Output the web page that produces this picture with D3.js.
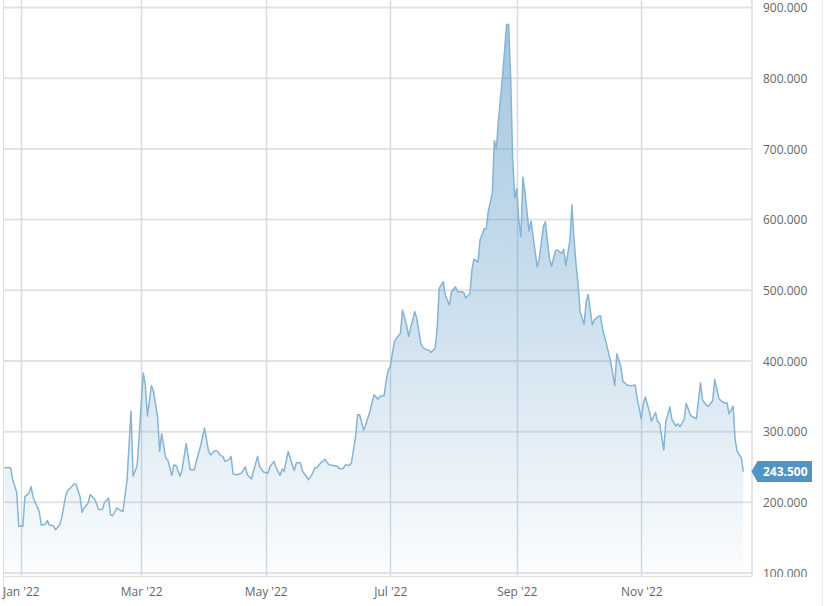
<!DOCTYPE html>
<html><head><meta charset="utf-8">
<script src="https://cdn.jsdelivr.net/npm/d3@7"></script>
<style>body{margin:0;background:#fff}svg{display:block;font-family:"Open Sans",sans-serif}</style>
</head><body><svg id="c" width="826" height="606"></svg>
<script>
const dates = ["2021-12-24","2021-12-27","2021-12-28","2021-12-30","2021-12-31","2022-01-02","2022-01-03","2022-01-05","2022-01-06","2022-01-07",
"2022-01-08","2022-01-10","2022-01-11","2022-01-13","2022-01-14","2022-01-15","2022-01-17","2022-01-18","2022-01-20","2022-01-21",
"2022-01-23","2022-01-24","2022-01-25","2022-01-27","2022-01-28","2022-01-30","2022-01-31","2022-02-01","2022-02-03","2022-02-04",
"2022-02-06","2022-02-07","2022-02-08","2022-02-10","2022-02-11","2022-02-13","2022-02-14","2022-02-15","2022-02-17","2022-02-18",
"2022-02-20","2022-02-21","2022-02-22","2022-02-24","2022-02-25","2022-02-27","2022-03-02","2022-03-03","2022-03-04","2022-03-06",
"2022-03-07","2022-03-09","2022-03-10","2022-03-11","2022-03-13","2022-03-14","2022-03-16","2022-03-17","2022-03-18","2022-03-20",
"2022-03-21","2022-03-23","2022-03-24","2022-03-25","2022-03-27","2022-03-28","2022-03-30","2022-04-01","2022-04-03","2022-04-04",
"2022-04-06","2022-04-07","2022-04-09","2022-04-10","2022-04-11","2022-04-13","2022-04-14","2022-04-15","2022-04-17","2022-04-19",
"2022-04-21","2022-04-22","2022-04-24","2022-04-27","2022-04-28","2022-04-30","2022-05-02","2022-05-03","2022-05-05","2022-05-06",
"2022-05-08","2022-05-09","2022-05-10","2022-05-12","2022-05-14","2022-05-15","2022-05-16","2022-05-18","2022-05-19","2022-05-22",
"2022-05-24","2022-05-25","2022-05-26","2022-05-28","2022-05-29","2022-05-30","2022-06-01","2022-06-03","2022-06-05","2022-06-06",
"2022-06-08","2022-06-09","2022-06-11","2022-06-12","2022-06-14","2022-06-15","2022-06-16","2022-06-18","2022-06-19","2022-06-21",
"2022-06-23","2022-06-25","2022-06-26","2022-06-28","2022-06-29","2022-06-30","2022-07-01","2022-07-03","2022-07-04","2022-07-06",
"2022-07-07","2022-07-09","2022-07-10","2022-07-12","2022-07-13","2022-07-14","2022-07-16","2022-07-17","2022-07-18","2022-07-20",
"2022-07-21","2022-07-23","2022-07-24","2022-07-25","2022-07-27","2022-07-28","2022-07-30","2022-07-31","2022-08-02","2022-08-03",
"2022-08-05","2022-08-06","2022-08-07","2022-08-09","2022-08-10","2022-08-11","2022-08-13","2022-08-14","2022-08-16","2022-08-17",
"2022-08-18","2022-08-20","2022-08-21","2022-08-22","2022-08-23","2022-08-25","2022-08-27","2022-08-28","2022-08-29","2022-08-30",
"2022-08-31","2022-09-01","2022-09-02","2022-09-03","2022-09-04","2022-09-05","2022-09-07","2022-09-08","2022-09-09","2022-09-11",
"2022-09-12","2022-09-14","2022-09-15","2022-09-17","2022-09-18","2022-09-20","2022-09-21","2022-09-23","2022-09-24","2022-09-25",
"2022-09-27","2022-09-28","2022-09-29","2022-09-30","2022-10-01","2022-10-02","2022-10-04","2022-10-05","2022-10-06","2022-10-08",
"2022-10-09","2022-10-11","2022-10-12","2022-10-13","2022-10-15","2022-10-17","2022-10-19","2022-10-20","2022-10-22","2022-10-23",
"2022-10-25","2022-10-27","2022-10-29","2022-10-30","2022-11-01","2022-11-02","2022-11-03","2022-11-05","2022-11-06","2022-11-08",
"2022-11-09","2022-11-10","2022-11-12","2022-11-13","2022-11-15","2022-11-16","2022-11-18","2022-11-19","2022-11-20","2022-11-22",
"2022-11-23","2022-11-25","2022-11-26","2022-11-28","2022-11-30","2022-12-01","2022-12-03","2022-12-04","2022-12-06","2022-12-07",
"2022-12-09","2022-12-10","2022-12-12","2022-12-13","2022-12-14","2022-12-16","2022-12-17","2022-12-18","2022-12-20","2022-12-21"];
const values = [249,249,232,214,166,166,208,213,222,208,
200,187,168,169,174,168,167,161,168,178,
209,217,219,226,226,208,186,192,199,211,
205,199,190,190,200,206,182,181,192,190,
187,208,230,329,237,252,383,366,322,365,
357,321,272,297,262,260,238,253,252,237,
246,283,265,246,246,258,279,305,272,267,
273,273,266,265,258,260,265,240,239,241,
250,239,233,265,250,243,241,250,258,250,
238,247,244,272,253,245,256,256,244,232,
241,249,249,256,258,261,253,252,251,248,
248,253,252,256,293,324,324,302,310,328,
352,346,350,351,372,387,392,427,432,439,
472,451,435,458,470,460,425,419,417,415,
412,418,446,503,512,493,479,498,505,498,
498,497,489,495,528,544,540,571,587,587,
611,637,712,700,740,802,876,876,802,684,
630,644,599,576,660,639,584,598,576,533,
544,590,597,545,534,556,557,552,558,535,
570,621,574,538,510,470,452,484,494,451,
458,463,464,446,423,399,365,410,392,371,
366,365,366,347,318,340,349,328,315,327,
314,312,274,314,335,317,308,311,307,317,
340,324,321,318,369,345,337,336,344,374,
347,344,340,341,325,336,288,272,263,243.5];
const yTicks = [100,200,300,400,500,600,700,800,900];
const xTicks = ["2022-01-01","2022-03-01","2022-05-01","2022-07-01","2022-09-01","2022-11-01"];
const lastLabel = "243.500";

const parse = d3.timeParse("%Y-%m-%d");
const data = dates.map((d,i)=>({date:parse(d), value:values[i]}));
const svg = d3.select("#c");
const L = 4.5, R = 751.5, T = 7.5, B = 573;
const x = d3.scaleTime().domain([new Date(2021,11,24), new Date(2022,11,25)]).range([L, R]);
const y = d3.scaleLinear().domain([100, 900]).range([B, T]);

const defs = svg.append("defs");
const g = defs.append("linearGradient").attr("id","fill").attr("gradientUnits","userSpaceOnUse")
  .attr("x1",0).attr("x2",0).attr("y1",y(880)).attr("y2",B);
g.append("stop").attr("offset","0%").attr("stop-color","rgb(70,140,190)").attr("stop-opacity",0.5);
g.append("stop").attr("offset","55%").attr("stop-color","rgb(70,140,190)").attr("stop-opacity",0.26);
g.append("stop").attr("offset","100%").attr("stop-color","rgb(70,140,190)").attr("stop-opacity",0.02);
defs.append("clipPath").attr("id","yclip").append("rect").attr("x",752).attr("y",0).attr("width",74).attr("height",577);

// frame lines
svg.append("line").attr("x1",3.5).attr("x2",3.5).attr("y1",0).attr("y2",601).attr("stroke","#dcdcdc");
svg.append("line").attr("x1",822.5).attr("x2",822.5).attr("y1",0).attr("y2",606).attr("stroke","#eeeeee");

// horizontal grid
svg.append("g").selectAll("line").data(yTicks).join("line")
  .attr("x1",L-1).attr("x2",R).attr("y1",d=>y(d)).attr("y2",d=>y(d))
  .attr("stroke","#e3e3e3").attr("stroke-width",2);
// vertical grid
svg.append("g").selectAll("line").data(xTicks).join("line")
  .attr("x1",d=>Math.round(x(parse(d)))+0.5).attr("x2",d=>Math.round(x(parse(d)))+0.5)
  .attr("y1",0).attr("y2",B+3).attr("stroke","#d3dce6").attr("stroke-width",1.5);

// area + line
const area = d3.area().x(d=>x(d.date)).y0(B).y1(d=>y(d.value));
const line = d3.line().x(d=>x(d.date)).y(d=>y(d.value));
svg.append("path").datum(data).attr("d",area).attr("fill","url(#fill)");
svg.append("path").datum(data).attr("d",line).attr("fill","none").attr("stroke","#85b5d5").attr("stroke-width",1.5).attr("stroke-linejoin","round");

// axis lines
svg.append("line").attr("x1",R+0.5).attr("x2",R+0.5).attr("y1",0).attr("y2",B+3.5).attr("stroke","#dcdcdc").attr("stroke-width",1.5);
svg.append("line").attr("x1",3).attr("x2",R+1).attr("y1",B+3.5).attr("y2",B+3.5).attr("stroke","#e3e3e3").attr("stroke-width",1.5);

// x axis labels
const xAxis = d3.axisBottom(x).tickValues(xTicks.map(parse)).tickFormat(d3.timeFormat("%b '%y")).tickSize(0);
const xg = svg.append("g").attr("transform",`translate(0,${B})`).call(xAxis);
xg.select(".domain").remove();
xg.selectAll("text").attr("dy",0).attr("y",22.5).attr("fill","#666").style("font-size","12px").style("font-family","'Open Sans',sans-serif");

// y axis labels (clipped at the bottom like the reference)
const yAxis = d3.axisRight(y).tickValues(yTicks).tickFormat(d3.format(".3f")).tickSize(0);
const yg = svg.append("g").attr("clip-path","url(#yclip)")
  .append("g").attr("transform",`translate(${R},0)`).call(yAxis);
yg.select(".domain").remove();
yg.selectAll("text").attr("x",11.5).attr("dy","0.35em").attr("fill","#666").style("font-size","12px").style("font-family","'Open Sans',sans-serif");

// last value label
const last = data[data.length-1];
const ly = y(last.value);
svg.append("path").attr("d",`M${R},${ly} L${R+6},${ly-10.5} L${R+60.5},${ly-10.5} L${R+60.5},${ly+10.5} L${R+6},${ly+10.5} Z`)
  .attr("fill","#5193c2");
svg.append("text").attr("x",R+11.5).attr("y",ly).attr("dy","0.36em").attr("fill","#fff")
  .style("font-size","12px").style("font-weight","bold").text(lastLabel);
</script></body></html>
